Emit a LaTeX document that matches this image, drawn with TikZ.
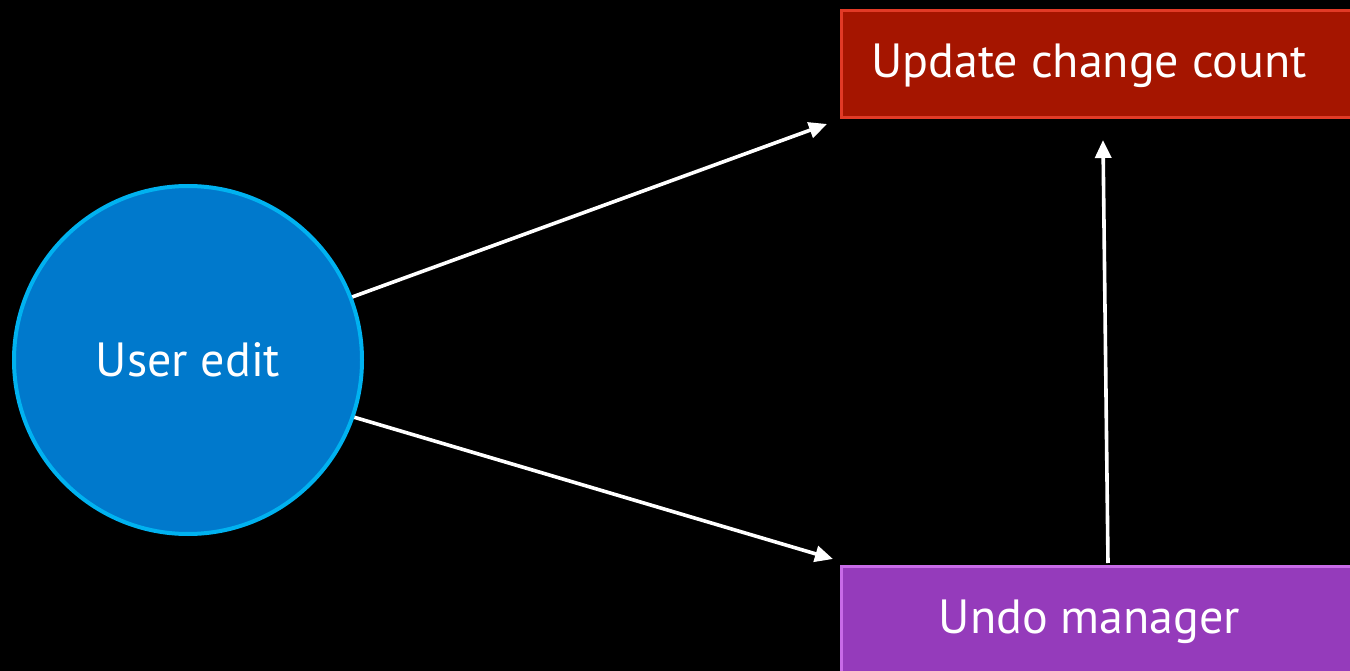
\documentclass[tikz,border=0pt]{standalone}
\usepackage{fontspec}
\setmainfont{PT Sans}
\usetikzlibrary{arrows.meta}
\definecolor{circfill}{HTML}{0079CC}
\definecolor{circline}{HTML}{00B2F0}
\definecolor{redfill}{HTML}{A51500}
\definecolor{redline}{HTML}{E23A26}
\definecolor{purpfill}{HTML}{953BBB}
\definecolor{purpline}{HTML}{C86BE8}
\tikzset{
  lbl/.style={text=white, font=\fontsize{48}{58}\selectfont, inner sep=0pt},
  boxshape/.style={rectangle, line width=3pt, minimum width=560pt, anchor=north west, inner sep=0pt},
  conn/.style={draw=white, line width=3.6pt, -{Triangle[length=18pt,width=16pt]}},
}
\begin{document}
\begin{tikzpicture}[x=1pt,y=-1pt]
\useasboundingbox[fill=black] (0,0) rectangle (1350,671);
\clip (0,0) rectangle (1350,671);
\node[circle, fill=circfill, draw=circline, line width=4pt, minimum size=348pt, inner sep=0pt, lbl] (ue) at (188,360) {User edit};
\node[boxshape, fill=redfill, draw=redline, minimum height=107pt] (ucc) at (839.5,9.5) {};
\node[lbl, anchor=base] (ucct) at (1089,78) {Update change count};
\node[boxshape, fill=purpfill, draw=purpline, minimum height=107pt] (um) at (839.5,564.5) {};
\node[lbl, anchor=base] (umt) at (1089.5,633) {Undo manager};
\coordinate (a1) at (827,124);
\coordinate (a2) at (833,559);
\coordinate (a3s) at (1108,563);
\coordinate (a3) at (1103,140);
\draw[conn] (ue.21) -- (a1);
\draw[conn] (ue.-19) -- (a2);
\draw[conn] (a3s) -- (a3);
\end{tikzpicture}
\end{document}
